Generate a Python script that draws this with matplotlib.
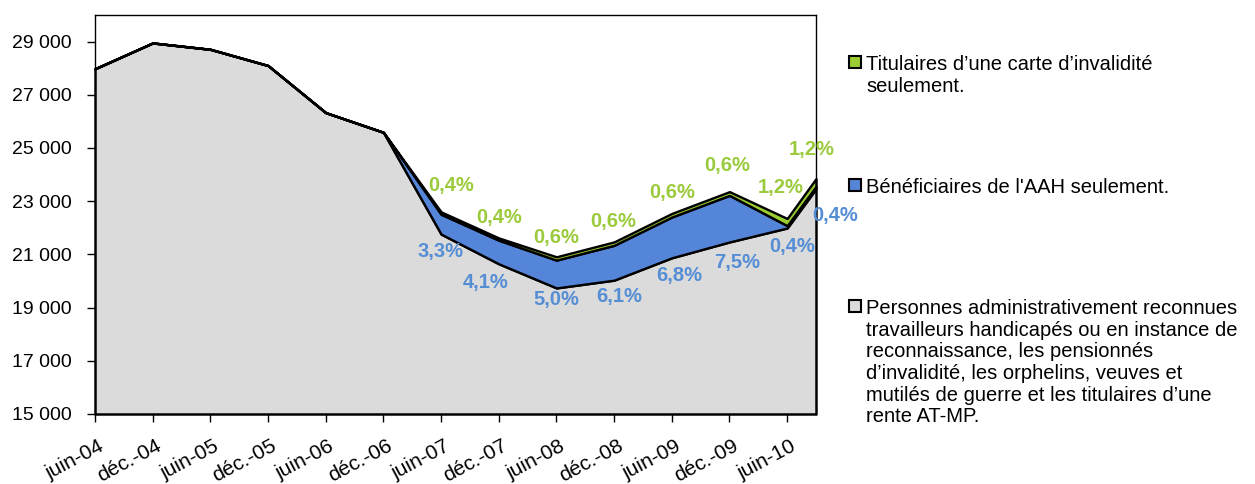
import matplotlib
matplotlib.use("Agg")
import matplotlib.pyplot as plt
import matplotlib.transforms as mtransforms
import numpy as np
import pandas as pd
from matplotlib.patches import Rectangle

plt.rcParams['font.family'] = ['Liberation Sans', 'DejaVu Sans']

# Half-yearly observation dates (last one is September 2010)
periods = ['2004-06', '2004-12', '2005-06', '2005-12', '2006-06', '2006-12',
           '2007-06', '2007-12', '2008-06', '2008-12', '2009-06', '2009-12',
           '2010-06', '2010-09']
tick_labels = ['juin-04', 'déc.-04', 'juin-05', 'déc.-05', 'juin-06', 'déc.-06',
               'juin-07', 'déc.-07', 'juin-08', 'déc.-08', 'juin-09', 'déc.-09',
               'juin-10']

# Total number of people, and share (%) of the two smaller groups
total = [27980, 28950, 28710, 28100, 26330, 25590,
         22600, 21620, 20910, 21470, 22540, 23360, 22350, 23850]
aah_pct = [0, 0, 0, 0, 0, 0, 3.3, 4.1, 5.0, 6.1, 6.8, 7.5, 0.4, 0.4]
carte_pct = [0, 0, 0, 0, 0, 0, 0.4, 0.4, 0.6, 0.6, 0.6, 0.6, 1.2, 1.2]

legend_labels = [
    "Titulaires d\u2019une carte d\u2019invalidité\nseulement.",
    "Bénéficiaires de l'AAH seulement.",
    "Personnes administrativement reconnues\ntravailleurs handicapés ou en instance de\n"
    "reconnaissance, les pensionnés\nd\u2019invalidité, les orphelins, veuves et\n"
    "mutilés de guerre et les titulaires d\u2019une\nrente AT-MP.",
]

GRAY = '#DBDBDB'
BLUE = '#5585D8'
GREEN = '#9ACD32'
GREEN_TXT = '#9BCB3C'
BLUE_TXT = '#558ED5'

# x positions in months from the first observation
p = [pd.Period(s, freq='M') for s in periods]
x = np.array([(q.year - p[0].year) * 12 + (q.month - p[0].month) for q in p])

total_a = np.array(total, dtype=float)
blue = total_a * np.array(aah_pct) / 100
green = total_a * np.array(carte_pct) / 100
gray = total_a - blue - green
blue_top = gray + blue

W, H = 1255, 484
fig = plt.figure(figsize=(W / 100, H / 100), dpi=100)
ax = fig.add_axes([95 / W, 1 - 414 / H, (816 - 95) / W, (414 - 15) / H])

YMIN, YMAX = 15000, 30000
lw = 1.7
ax.fill_between(x, YMIN, gray, facecolor=GRAY, edgecolor='black', linewidth=lw,
                clip_on=False, zorder=2)
ax.fill_between(x, gray, blue_top, facecolor=BLUE, edgecolor='black', linewidth=lw,
                clip_on=False, zorder=3)
ax.fill_between(x, blue_top, total_a, facecolor=GREEN, edgecolor='black', linewidth=lw,
                clip_on=False, zorder=4)

ax.set_xlim(x[0], x[-1])
ax.set_ylim(YMIN, YMAX)

yt = np.arange(15000, 29001, 2000)
ax.set_yticks(yt)
ax.set_yticklabels([f"{v:,}".replace(',', ' ') for v in yt], fontsize=14)
ax.set_xticks(x[:len(tick_labels)])
ax.set_xticklabels(tick_labels, fontsize=15, rotation=28, ha='right', va='top',
                   rotation_mode='anchor')
ax.tick_params(axis='y', direction='out', length=6, width=1, pad=11)
ax.tick_params(axis='x', direction='out', length=6, width=1, pad=10)
shift = mtransforms.ScaledTranslation(3 / 100, 0, fig.dpi_scale_trans)
for lab in ax.get_xticklabels():
    lab.set_transform(lab.get_transform() + shift)
for s in ax.spines.values():
    s.set_linewidth(1)
    s.set_color('black')
    s.set_zorder(5)

# Data labels (pixel offsets from the point they describe)
green_off = [(10, 26), (0, 20), (0, 19), (-1, 20), (0, 21), (-2, 26), (-6, 31), (-4, 29)]
blue_off = [(-1, -17), (-13, -19), (0, -12), (5, -16), (7, -18), (8, -21), (5, -18), (19, -27)]
labelled = [i for i in range(len(x)) if aah_pct[i] > 0]
for k, i in enumerate(labelled):
    ax.annotate(f"{carte_pct[i]:.1f}%".replace('.', ','), (x[i], total_a[i]),
                xytext=green_off[k], textcoords='offset pixels', ha='center',
                va='center', color=GREEN_TXT, fontweight='bold', fontsize=14.5,
                annotation_clip=False, zorder=6)
    ax.annotate(f"{aah_pct[i]:.1f}%".replace('.', ','), (x[i], gray[i]),
                xytext=blue_off[k], textcoords='offset pixels', ha='center',
                va='center', color=BLUE_TXT, fontweight='bold', fontsize=14.5,
                annotation_clip=False, zorder=6)

# Legend drawn beside the plot
legend_rows = [(62, GREEN), (185, BLUE), (306, GRAY)]
for (ypix, col), lab in zip(legend_rows, legend_labels):
    fig.patches.append(Rectangle(((849) / W, 1 - (ypix + 6) / H), 12 / W, 12 / H,
                                 transform=fig.transFigure, facecolor=col,
                                 edgecolor='black', linewidth=1.5))
    fig.text(866 / W, 1 - (ypix - 7) / H, lab, fontsize=14.5, va='top', ha='left',
             linespacing=1.18)

fig.savefig('out.png', dpi=100)
